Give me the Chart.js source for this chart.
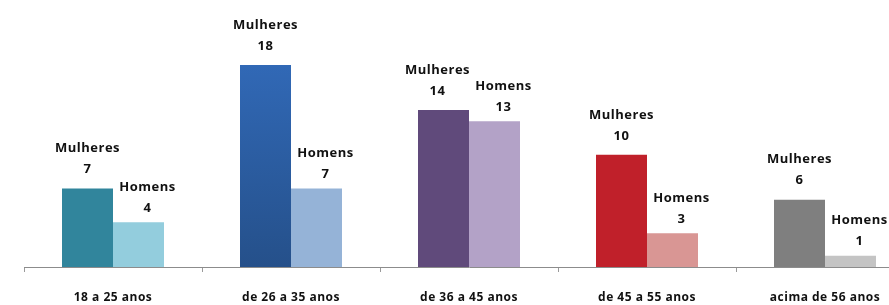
<!DOCTYPE html>
<html>
<head>
<meta charset="utf-8">
<script src="https://cdn.jsdelivr.net/npm/chart.js@4.4.1/dist/chart.umd.min.js"></script>
<style>
  html, body { margin: 0; padding: 0; background: #fff; overflow: hidden; }
  #wrap { width: 914px; height: 305px; }
</style>
</head>
<body>
<div id="wrap"><canvas id="chart" width="914" height="305"></canvas></div>
<script>
// ===== Data =====
const categories = ['18 a 25 anos', 'de 26 a 35 anos', 'de 36 a 45 anos', 'de 45 a 55 anos', 'acima de 56 anos'];
const mulheres   = [7, 18, 14, 10, 6];
const homens     = [4, 7, 13, 3, 1];

// ===== Colors (one per age group) =====
const MULHERES_COLORS = ['#31859c', '#2c66ad', '#604a7b', '#c0202a', '#7f7f7f'];
const HOMENS_COLORS   = ['#93cddd', '#95b3d7', '#b3a2c7', '#d99694', '#c4c4c4'];

const LABEL_FONT = '700 13px "Open Sans", sans-serif';

// shade the big blue bar like the original (lighter at the top)
function mulheresFill(ctx) {
  const i = ctx.dataIndex;
  if (i !== 1 || !ctx.chart.chartArea) return MULHERES_COLORS[i];
  const area = ctx.chart.chartArea;
  const g = ctx.chart.ctx.createLinearGradient(0, area.top + 60, 0, area.bottom);
  g.addColorStop(0, '#3169b7');
  g.addColorStop(1, '#25508a');
  return g;
}

// name + value over each bar
const barLabels = {
  id: 'barLabels',
  beforeDraw(chart) {
    chart.ctx.letterSpacing = '0.5px';
  },
  afterDatasetsDraw(chart) {
    const ctx = chart.ctx;
    ctx.save();
    ctx.letterSpacing = '0.5px';
    ctx.font = LABEL_FONT;
    ctx.fillStyle = '#111';
    ctx.textAlign = 'center';
    ctx.textBaseline = 'middle';
    chart.data.datasets.forEach((ds, di) => {
      const meta = chart.getDatasetMeta(di);
      meta.data.forEach((bar, i) => {
        let dx = 0, up = 19;
        if (di === 1) { dx = 9; up = 14; }
        else if (i === 2) dx = -6;
        ctx.fillText(ds.label, bar.x + dx, bar.y - up - 21);
        ctx.fillText(String(ds.data[i]), bar.x + dx, bar.y - up);
      });
    });
    ctx.restore();
  }
};

new Chart(document.getElementById('chart'), {
  type: 'bar',
  data: {
    labels: categories,
    datasets: [
      { label: 'Mulheres', data: mulheres, backgroundColor: mulheresFill },
      { label: 'Homens',   data: homens,   backgroundColor: HOMENS_COLORS },
    ],
  },
  options: {
    responsive: false,
    animation: false,
    layout: { padding: { left: 24, right: 0, top: 0, bottom: 0 } },
    datasets: { bar: { categoryPercentage: 0.573, barPercentage: 1, borderWidth: 0 } },
    plugins: { legend: { display: false }, tooltip: { enabled: false } },
    scales: {
      x: {
        offset: true,
        grid: { display: true, drawOnChartArea: false, drawTicks: true, tickLength: 5, color: '#9a9a9a', offset: true },
        border: { display: true, color: '#8c8c8c', width: 1 },
        ticks: {
          color: '#111',
          font: { family: '"Open Sans", sans-serif', size: 12, weight: '700' },
          padding: 18,
          maxRotation: 0,
          autoSkip: false,
        },
        afterFit(scale) { scale.height = 38; },
      },
      y: { display: false, min: 0, max: 23.8 },
    },
  },
  plugins: [barLabels],
});
</script>
</body>
</html>
